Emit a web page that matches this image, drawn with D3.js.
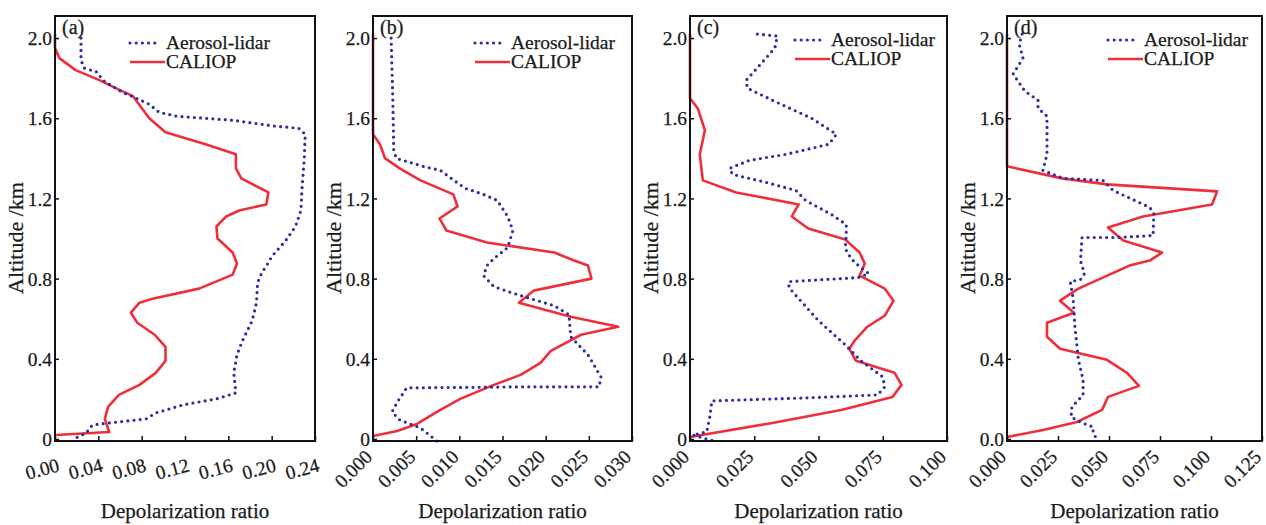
<!DOCTYPE html>
<html lang="en">
<head>
<meta charset="utf-8">
<title>Depolarization ratio profiles</title>
<script src="https://d3js.org/d3.v7.min.js"></script>
<style>
  body { margin: 0; background: #fff; }
  svg text { font-family: "Liberation Serif", "Times New Roman", serif; fill: #1a1a1a; stroke: #1a1a1a; stroke-width: 0.25px; }
</style>
</head>
<body>
<script>
// [depolarization ratio, altitude km]
const lidarA = [[0.024,2.0],[0.024,1.89],[0.027,1.85],[0.039,1.83],[0.044,1.79],[0.062,1.73],[0.075,1.70],[0.087,1.67],[0.096,1.63],[0.112,1.61],[0.164,1.59],[0.204,1.56],[0.225,1.55],[0.231,1.52],[0.230,1.39],[0.228,1.25],[0.227,1.14],[0.222,1.06],[0.213,0.99],[0.200,0.91],[0.197,0.88],[0.191,0.83],[0.187,0.78],[0.186,0.68],[0.182,0.59],[0.173,0.49],[0.168,0.42],[0.165,0.33],[0.167,0.23],[0.149,0.20],[0.118,0.17],[0.093,0.13],[0.084,0.10],[0.050,0.08],[0.035,0.07],[0.032,0.055],[0.029,0.03],[0.019,0.005]];
const caliopA = [[0.0,2.02],[0.0,1.95],[0.004,1.90],[0.019,1.84],[0.041,1.79],[0.056,1.75],[0.072,1.71],[0.087,1.60],[0.102,1.53],[0.139,1.47],[0.167,1.42],[0.167,1.35],[0.172,1.30],[0.197,1.23],[0.195,1.17],[0.170,1.14],[0.158,1.11],[0.149,1.06],[0.150,1.0],[0.164,0.93],[0.168,0.875],[0.164,0.82],[0.133,0.75],[0.090,0.70],[0.078,0.68],[0.070,0.63],[0.076,0.58],[0.092,0.52],[0.102,0.46],[0.102,0.39],[0.093,0.33],[0.078,0.27],[0.059,0.22],[0.049,0.16],[0.046,0.10],[0.050,0.035],[0.001,0.02]];

const lidarB = [[0.0021,2.0],[0.0023,1.69],[0.0024,1.44],[0.0027,1.40],[0.0058,1.36],[0.0078,1.34],[0.0097,1.28],[0.0107,1.25],[0.0128,1.22],[0.0144,1.19],[0.0156,1.11],[0.0162,1.04],[0.0156,0.955],[0.0140,0.90],[0.0132,0.865],[0.0128,0.815],[0.0140,0.76],[0.0171,0.715],[0.0210,0.665],[0.0227,0.62],[0.0229,0.51],[0.0249,0.42],[0.0264,0.31],[0.0262,0.26],[0.0171,0.26],[0.0039,0.255],[0.0029,0.19],[0.0022,0.135],[0.0031,0.095],[0.0055,0.055],[0.0074,-0.01]];
const caliopB = [[0.0,2.02],[0.0,1.52],[0.0008,1.47],[0.0014,1.40],[0.0031,1.35],[0.0055,1.29],[0.0093,1.22],[0.0098,1.16],[0.0077,1.10],[0.0085,1.04],[0.0132,0.98],[0.0210,0.93],[0.0233,0.89],[0.0249,0.865],[0.0253,0.80],[0.0186,0.74],[0.0169,0.68],[0.0229,0.61],[0.0284,0.56],[0.0241,0.52],[0.0206,0.44],[0.0194,0.38],[0.0171,0.32],[0.0140,0.27],[0.0101,0.20],[0.0074,0.135],[0.0051,0.075],[0.0028,0.04],[0.0,0.015]];

const lidarC = [[0.0262,2.02],[0.034,2.01],[0.033,1.95],[0.0219,1.79],[0.0223,1.75],[0.032,1.69],[0.0473,1.60],[0.057,1.52],[0.054,1.47],[0.0373,1.42],[0.0231,1.39],[0.0154,1.35],[0.0165,1.32],[0.0296,1.28],[0.0412,1.24],[0.045,1.19],[0.055,1.12],[0.0608,1.07],[0.0608,1.02],[0.0604,0.95],[0.0627,0.90],[0.0646,0.875],[0.0696,0.825],[0.0654,0.805],[0.0385,0.785],[0.0385,0.755],[0.050,0.59],[0.0604,0.47],[0.0665,0.39],[0.075,0.31],[0.0758,0.26],[0.073,0.22],[0.045,0.205],[0.0085,0.19],[0.0077,0.11],[0.0065,0.035],[0.001,0.02],[0.0065,0.0],[0.0096,-0.01]];
const caliopC = [[0.0,2.02],[0.0,1.70],[0.003,1.65],[0.0058,1.54],[0.0038,1.42],[0.005,1.29],[0.018,1.23],[0.0423,1.17],[0.0396,1.11],[0.046,1.05],[0.0604,0.995],[0.066,0.93],[0.068,0.875],[0.066,0.815],[0.0758,0.75],[0.0792,0.69],[0.0758,0.615],[0.069,0.56],[0.064,0.49],[0.062,0.45],[0.0646,0.39],[0.0796,0.33],[0.0823,0.27],[0.0788,0.21],[0.0588,0.145],[0.032,0.08],[0.0,0.01]];

const lidarD = [[0.0074,2.02],[0.006,1.97],[0.0078,1.90],[0.003,1.82],[0.0088,1.735],[0.0152,1.69],[0.0152,1.65],[0.0196,1.61],[0.0196,1.42],[0.0176,1.34],[0.0275,1.30],[0.047,1.29],[0.052,1.24],[0.070,1.155],[0.072,1.125],[0.0716,1.015],[0.0539,1.005],[0.0368,1.005],[0.036,0.89],[0.038,0.825],[0.036,0.795],[0.031,0.785],[0.0324,0.705],[0.0333,0.56],[0.035,0.395],[0.0373,0.295],[0.0373,0.22],[0.0318,0.16],[0.0314,0.11],[0.0368,0.08],[0.0422,0.06],[0.0422,0.03],[0.044,0.0]];
const caliopD = [[0.0,2.02],[0.0,1.36],[0.027,1.30],[0.049,1.27],[0.103,1.235],[0.1005,1.17],[0.0667,1.11],[0.0495,1.055],[0.057,0.99],[0.076,0.93],[0.070,0.89],[0.060,0.865],[0.035,0.75],[0.026,0.69],[0.0328,0.63],[0.0196,0.58],[0.0196,0.51],[0.026,0.45],[0.049,0.395],[0.0588,0.33],[0.0647,0.265],[0.0495,0.21],[0.0466,0.145],[0.0343,0.085],[0.0177,0.045],[0.0,0.01]];

const xMaxes = [0.24, 0.03, 0.1, 0.125];
const xTicks = [
  [0, 0.04, 0.08, 0.12, 0.16, 0.20, 0.24],
  [0, 0.005, 0.010, 0.015, 0.020, 0.025, 0.030],
  [0, 0.025, 0.050, 0.075, 0.100],
  [0, 0.025, 0.050, 0.075, 0.100, 0.125]
];
const xDigits = [2, 3, 3, 3];
const yTicks = [0, 0.4, 0.8, 1.2, 1.6, 2.0];
const panelTags = ["(a)", "(b)", "(c)", "(d)"];
const seriesNames = ["Aerosol-lidar", "CALIOP"];

const panels = [
  {lidar: lidarA, caliop: caliopA, left: 55,   right: 315,  rot: -15, legX: 75},
  {lidar: lidarB, caliop: caliopB, left: 373,  right: 632,  rot: -45, legX: 102},
  {lidar: lidarC, caliop: caliopC, left: 690,  right: 947,  rot: -45, legX: 105},
  {lidar: lidarD, caliop: caliopD, left: 1007, right: 1262, rot: -45, legX: 101}
];

const W = 1266, H = 525, plotTop = 16, plotBottom = 441;
const blue = "#2e2ea3", red = "#ee2f3b";

const svg = d3.select("body").append("svg")
  .attr("width", W).attr("height", H);

const y = d3.scaleLinear().domain([-0.01, 2.11]).range([plotBottom, plotTop]);

panels.forEach((p, i) => {
  const x = d3.scaleLinear().domain([0, xMaxes[i]]).range([p.left, p.right]);
  const g = svg.append("g");

  const line = d3.line().x(d => x(d[0])).y(d => y(d[1]));

  g.append("path").datum(p.caliop)
    .attr("d", line).attr("fill", "none")
    .attr("stroke", red).attr("stroke-width", 2.6)
    .attr("stroke-linejoin", "round");

  g.append("path").datum(p.lidar)
    .attr("d", line).attr("fill", "none")
    .attr("stroke", blue).attr("stroke-width", 3.2)
    .attr("stroke-linecap", "round")
    .attr("stroke-dasharray", "0 6.2");

  // bottom axis, ticks pointing in
  const ax = g.append("g")
    .attr("transform", "translate(0," + plotBottom + ")")
    .call(d3.axisBottom(x).tickValues(xTicks[i]).tickSizeInner(-5).tickSizeOuter(0)
      .tickFormat(d => d.toFixed(xDigits[i])));
  ax.select(".domain").remove();
  ax.selectAll(".tick line").attr("stroke", "#111").attr("stroke-width", 1.5);
  ax.selectAll(".tick text")
    .attr("font-size", 19.5)
    .attr("text-anchor", "end")
    .attr("dy", null)
    .attr("y", null)
    .attr("transform", p.rot === -15 ? "translate(5,30) rotate(-15)" : "translate(0,17) rotate(-45)");

  // left axis, ticks pointing in
  const ay = g.append("g")
    .attr("transform", "translate(" + p.left + ",0)")
    .call(d3.axisLeft(y).tickValues(yTicks).tickSizeInner(-4).tickSizeOuter(0)
      .tickFormat(d => d === 0 ? (i === 3 ? "0.0" : "0") : d.toFixed(1)));
  ay.select(".domain").remove();
  ay.selectAll(".tick line").attr("stroke", "#111").attr("stroke-width", 1.5);
  ay.selectAll(".tick text").attr("font-size", 19.5).attr("x", -3).attr("dy", "0.34em");

  // frame
  g.append("rect")
    .attr("x", p.left).attr("y", plotTop)
    .attr("width", p.right - p.left).attr("height", plotBottom - plotTop)
    .attr("fill", "none").attr("stroke", "#111").attr("stroke-width", 2);

  g.append("text").attr("x", p.left + 7).attr("y", 34)
    .attr("font-size", 20).text(panelTags[i]);

  // legend
  const lx = p.left + p.legX;
  const ly = i < 2 ? 43 : 40;
  g.append("line").attr("x1", lx).attr("x2", lx + 30).attr("y1", ly).attr("y2", ly)
    .attr("stroke", blue).attr("stroke-width", 3.2)
    .attr("stroke-linecap", "round").attr("stroke-dasharray", "0 6.2");
  g.append("text").attr("x", lx + 36).attr("y", ly + 6)
    .attr("font-size", 19.5).text(seriesNames[0]);
  g.append("line").attr("x1", lx).attr("x2", lx + 35).attr("y1", ly + 19).attr("y2", ly + 19)
    .attr("stroke", red).attr("stroke-width", 2.6);
  g.append("text").attr("x", lx + 36).attr("y", ly + 25)
    .attr("font-size", 19.5).text(seriesNames[1]);

  // axis titles
  g.append("text")
    .attr("x", (p.left + p.right) / 2).attr("y", 518)
    .attr("text-anchor", "middle").attr("font-size", 21)
    .text("Depolarization ratio");

  g.append("text")
    .attr("transform", "translate(" + (p.left - 32) + ",238) rotate(-90)")
    .attr("text-anchor", "middle").attr("font-size", 22)
    .text("Altitude /km");
});
</script>
</body>
</html>
